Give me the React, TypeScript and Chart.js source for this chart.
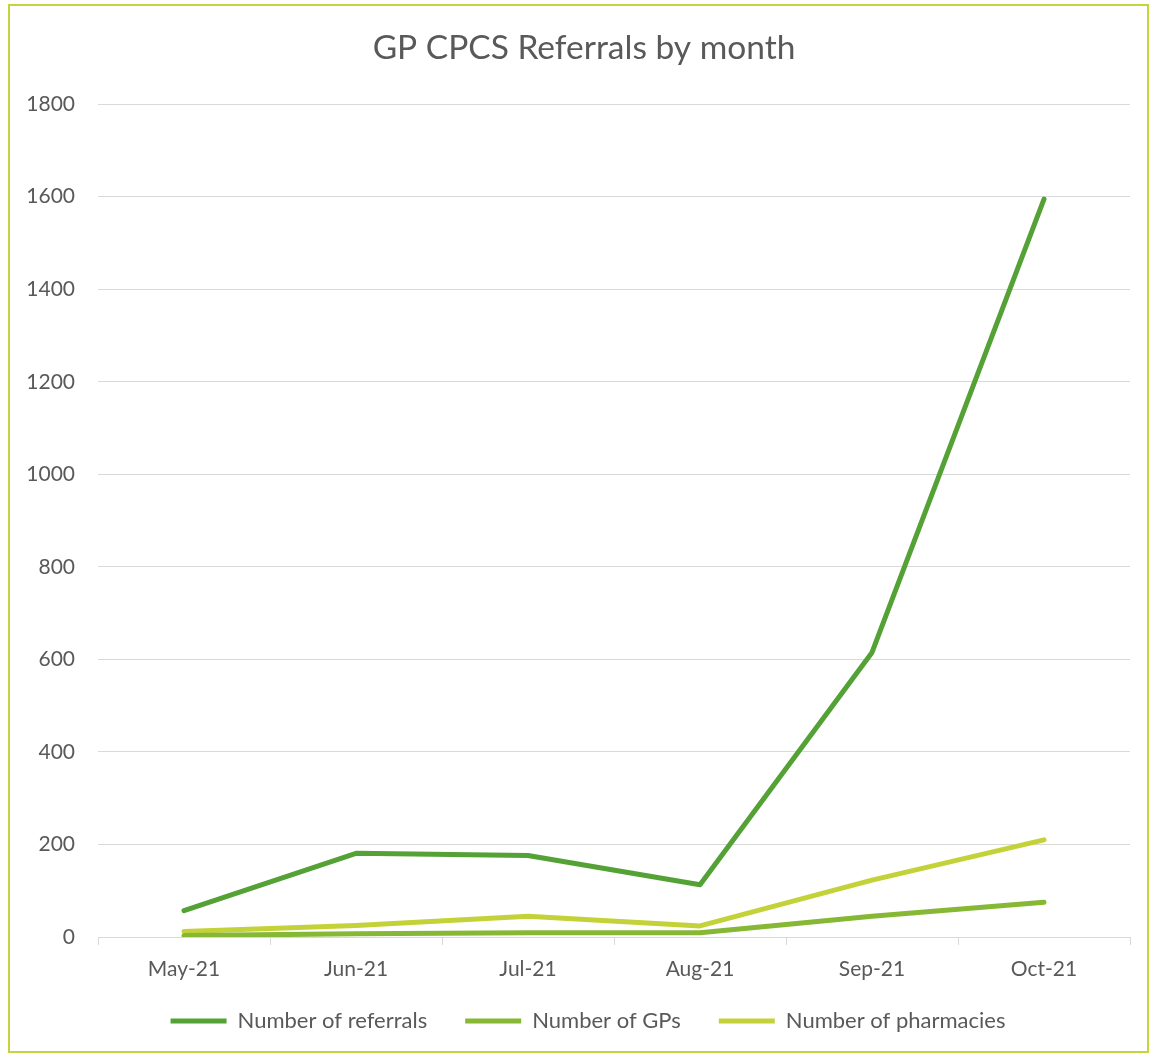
import React, { useEffect, useRef } from "react";
import { Chart, registerables } from "chart.js";

Chart.register(...registerables);

const months = ["May-21", "Jun-21", "Jul-21", "Aug-21", "Sep-21", "Oct-21"];
const referrals = [57, 181, 176, 113, 615, 1595];
const gps = [3, 7, 9, 9, 45, 75];
const pharmacies = [12, 25, 45, 24, 123, 210];

const FONT = "Lato, 'Open Sans', sans-serif";
const TEXT = "#595959";
const GRID = "#d9d9d9";

const borderPlugin = {
  id: "outerBorder",
  afterDraw(chart: any) {
    const ctx = chart.ctx;
    ctx.save();
    ctx.strokeStyle = "#c5d43e";
    ctx.lineWidth = 2;
    ctx.strokeRect(9, 5, 1139, 1047);
    ctx.restore();
  },
};

// Nudge title and legend boxes to Excel-like positions (centered on the outer frame)
const placePlugin = {
  id: "place",
  afterLayout(chart: any) {
    const t = chart.titleBlock;
    if (t) {
      const w = t.right - t.left;
      t.left = 584 - w / 2;
      t.right = 584 + w / 2;
    }
    const l = chart.legend;
    if (l) {
      const w = l.right - l.left;
      l.left = 588 - w / 2;
      l.right = 588 + w / 2;
      const h = l.bottom - l.top;
      const pad = l.options.labels.padding;
      const fs = l.options.labels.font.size;
      l.top = 1021 - pad - fs / 2;
      l.bottom = l.top + h;
    }
  },
};

export default function App() {
  const ref = useRef<HTMLCanvasElement | null>(null);
  useEffect(() => {
    if (!ref.current) return;
    const chart = new Chart(ref.current, {
      type: "line",
      data: {
        labels: months,
        datasets: [
          { label: "Number of referrals", data: referrals, borderColor: "#54a135", backgroundColor: "#54a135" },
          { label: "Number of GPs", data: gps, borderColor: "#86b835", backgroundColor: "#86b835" },
          { label: "Number of pharmacies", data: pharmacies, borderColor: "#c4d23a", backgroundColor: "#c4d23a" },
        ].map((d) => ({
          ...d,
          borderWidth: 5,
          pointRadius: 0,
          pointHoverRadius: 0,
          borderCapStyle: "round" as const,
          borderJoinStyle: "round" as const,
          tension: 0,
        })),
      },
      options: {
        animation: false,
        responsive: true,
        maintainAspectRatio: false,
        layout: { padding: { left: 0, right: 20, top: 0, bottom: 1 } },
        plugins: {
          title: {
            display: true,
            text: "GP CPCS Referrals by month",
            color: TEXT,
            font: { family: FONT, size: 33.5, weight: "normal" },
            padding: { top: 28, bottom: 36 },
          },
          legend: {
            position: "bottom",
            labels: {
              usePointStyle: true,
              pointStyle: "line",
              pointStyleWidth: 56,
              boxWidth: 56,
              color: TEXT,
              font: { family: FONT, size: 22 },
              padding: 38,
            },
          },
          tooltip: { enabled: false },
        },
        scales: {
          x: {
            offset: true,
            afterFit: (s: any) => {
              s.height = 47;
            },
            grid: { drawOnChartArea: false, drawTicks: true, tickLength: 8, offset: true, color: GRID },
            border: { color: GRID, width: 1 },
            ticks: { color: TEXT, font: { family: FONT, size: 21 }, padding: 12, maxRotation: 0 },
          },
          y: {
            min: 0,
            max: 1800,
            afterFit: (s: any) => {
              s.width = 98;
            },
            grid: { color: GRID, drawTicks: false },
            border: { display: false },
            ticks: {
              stepSize: 200,
              color: TEXT,
              font: { family: FONT, size: 21 },
              padding: 23,
              callback: (v: any) => String(v),
            },
          },
        },
      },
      plugins: [borderPlugin, placePlugin],
    });
    return () => chart.destroy();
  }, []);
  return (
    <div style={{ position: "absolute", left: 0, top: 0, width: 1150, height: 1055, background: "#fff" }}>
      <canvas ref={ref} />
    </div>
  );
}
